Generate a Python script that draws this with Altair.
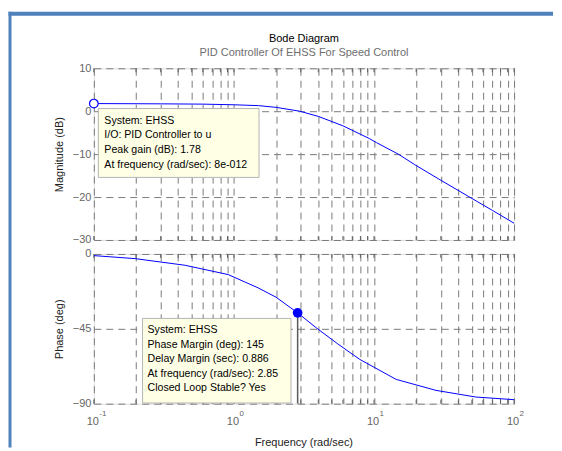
import altair as alt
import pandas as pd

# ---------------- data ----------------
mag_freq = [0.1, 0.3, 0.6, 1.0, 1.5, 2.0, 2.95, 4.0, 6.0, 9.3, 10.4, 15.1, 19.4, 29.0, 47.5, 70.0, 100.0]
mag_db = [1.78, 1.72, 1.65, 1.5, 1.3, 0.9, 0.0, -1.2, -3.4, -6.4, -7.3, -10.1, -12.4, -15.8, -19.9, -23.1, -26.1]

phase_freq = [0.1, 0.197, 0.448, 0.91, 1.49, 2.0, 2.85, 3.87, 5.5, 7.92, 14.4, 27.7, 53.3, 100.0]
phase_deg = [-1.0, -2.8, -6.8, -12.4, -20.4, -26.0, -35.4, -44.4, -54.0, -63.4, -75.4, -82.0, -86.0, -87.6]

grid_freqs = [0.1, 0.2, 0.3, 0.4, 0.5, 0.6, 0.7, 0.8, 0.9,
              1, 2, 3, 4, 5, 6, 7, 8, 9,
              10, 20, 30, 40, 50, 60, 70, 80, 90, 100]
mag_ticks = [10, 0, -10, -20, -30]
phase_ticks = [0, -45, -90]
decades = [0.1, 1, 10, 100]
decade_exp = ["-1", "0", "1", "2"]

peak_freq = [0.1]
peak_db = [1.78]
pm_freq = [2.85]
pm_deg = [-35.4]

top_tip = ["System: EHSS", "I/O: PID Controller to u", "Peak gain (dB): 1.78",
           "At frequency (rad/sec): 8e-012"]
bottom_tip = ["System: EHSS", "Phase Margin (deg): 145", "Delay Margin (sec): 0.886",
              "At frequency (rad/sec): 2.85", "Closed Loop Stable? Yes"]

title_text = "Bode Diagram"
subtitle_text = "PID Controller Of EHSS For Speed Control"
xlabel_text = "Frequency  (rad/sec)"

# ---------------- styling ----------------
FONT = "Liberation Sans"
W, H1, H2 = 421, 172, 150
GRID = dict(grid=True, gridDash=[7, 5], gridColor="#7a7a7a", gridWidth=1)

mag_df = pd.DataFrame({"freq": mag_freq, "val": mag_db})
ph_df = pd.DataFrame({"freq": phase_freq, "val": phase_deg})
grid_df = pd.DataFrame({"freq": grid_freqs})
dec_df = pd.DataFrame({"freq": decades, "exp": decade_exp})

xscale = alt.Scale(type="log", domain=[0.1, 100], nice=False)
xaxis = alt.Axis(values=grid_freqs, labels=False, ticks=False, domain=False,
                 title=None, **GRID)


def yaxis(vals, title):
    return alt.Axis(values=vals, ticks=False, domain=False, labelPadding=3,
                    labelFont=FONT, labelFontSize=11, labelColor="#666666",
                    title=title, titleFont=FONT, titleFontSize=11,
                    titleFontWeight="normal", titleColor="#222222",
                    titlePadding=8, **GRID)


def panel(df, ydom, yvals, ytitle, h):
    ysc = alt.Scale(domain=ydom, nice=False)
    curve = alt.Chart(df).mark_line(color="#0000ff", strokeWidth=1, clip=True).encode(
        x=alt.X("freq:Q", scale=xscale, axis=xaxis),
        y=alt.Y("val:Q", scale=ysc, axis=yaxis(yvals, ytitle)),
    )
    tk = alt.Chart(grid_df)
    ticks_b = tk.mark_rule(color="#606060", strokeWidth=1).encode(
        x="freq:Q", y=alt.value(h - 4), y2=alt.value(h))
    ticks_t = tk.mark_rule(color="#606060", strokeWidth=1).encode(
        x="freq:Q", y=alt.value(0), y2=alt.value(4))
    return [ticks_b, ticks_t, curve]


# ---------------- top panel (magnitude) ----------------
top_layers = panel(mag_df, [-30, 10], mag_ticks, "Magnitude (dB)", H1)

blue_top = alt.Chart(pd.DataFrame({"a": [0]})).mark_rect(color="#4f81bd").encode(
    x=alt.value(-85.5), x2=alt.value(460), y=alt.value(-56.7), y2=alt.value(-52.7))
blue_left = alt.Chart(pd.DataFrame({"a": [0]})).mark_rect(color="#4f81bd").encode(
    x=alt.value(-85.5), x2=alt.value(-82.5), y=alt.value(-56.7), y2=alt.value(380))
t1 = alt.Chart(pd.DataFrame({"t": [title_text]})).mark_text(
    font=FONT, fontSize=11, color="#000000", baseline="middle", align="center").encode(
    text="t:N", x=alt.value(W / 2), y=alt.value(-29.7))
t2 = alt.Chart(pd.DataFrame({"t": [subtitle_text]})).mark_text(
    font=FONT, fontSize=11, color="#6e6e6e", baseline="middle", align="center").encode(
    text="t:N", x=alt.value(W / 2), y=alt.value(-15.7))

tip1_box = alt.Chart(pd.DataFrame({"a": [0]})).mark_rect(
    fill="#ffffe6", stroke="#b4b4b4", strokeWidth=1).encode(
    x=alt.value(4.5), x2=alt.value(165.5), y=alt.value(40.3), y2=alt.value(109.3))
tip1_text = alt.Chart(pd.DataFrame({"a": [0]})).mark_text(
    text=top_tip, font=FONT, fontSize=10.6, color="#000000", align="left",
    baseline="middle", lineHeight=14.7).encode(x=alt.value(10.5), y=alt.value(52.6))
peak = alt.Chart(pd.DataFrame({"freq": peak_freq, "val": peak_db})).mark_point(
    shape="circle", size=75, color="#0000ff", fill="white", filled=False,
    strokeWidth=1.2, opacity=1, fillOpacity=1).encode(x="freq:Q", y="val:Q")

top = alt.layer(*top_layers, tip1_box, tip1_text, peak, blue_top, blue_left, t1, t2).properties(
    width=W, height=H1)

# ---------------- bottom panel (phase) ----------------
bot_layers = panel(ph_df, [-90, 0], phase_ticks, "Phase (deg)", H2)

pm_df = pd.DataFrame({"freq": pm_freq, "val": pm_deg})
pm_line = alt.Chart(pm_df).mark_rule(color="#5a5a5a", strokeWidth=1.5).encode(
    x="freq:Q", y="val:Q", y2=alt.datum(-90))
pm_dot = alt.Chart(pm_df).mark_point(
    shape="circle", size=95, color="#0000ff", filled=True, opacity=1).encode(
    x="freq:Q", y="val:Q")
tip2_box = alt.Chart(pd.DataFrame({"a": [0]})).mark_rect(
    fill="#ffffe6", stroke="#b4b4b4", strokeWidth=1).encode(
    x=alt.value(48.8), x2=alt.value(197.5), y=alt.value(64.6), y2=alt.value(149.3))
tip2_text = alt.Chart(pd.DataFrame({"a": [0]})).mark_text(
    text=bottom_tip, font=FONT, fontSize=10.6, color="#000000", align="left",
    baseline="middle", lineHeight=14.4).encode(x=alt.value(53.8), y=alt.value(76.6))

dec = alt.Chart(dec_df)
lab10 = dec.mark_text(text="10", font=FONT, fontSize=11, color="#666666",
                      align="center", baseline="middle", dx=-1).encode(
    x="freq:Q", y=alt.value(H2 + 18.7))
labexp = dec.mark_text(font=FONT, fontSize=8, color="#666666",
                       align="left", baseline="middle", dx=5.5).encode(
    x="freq:Q", y=alt.value(H2 + 10.8), text="exp:N")
xlab = alt.Chart(pd.DataFrame({"t": [xlabel_text]})).mark_text(
    font=FONT, fontSize=11, color="#222222", align="center", baseline="middle").encode(
    text="t:N", x=alt.value(W / 2), y=alt.value(H2 + 39.5))

bottom = alt.layer(*bot_layers, pm_line, tip2_box, tip2_text, pm_dot, lab10, labexp, xlab).properties(
    width=W, height=H2)

chart = alt.vconcat(top, bottom, spacing=14, bounds="flush").properties(
    padding={"left": 0, "top": 2, "right": 0, "bottom": 0}
).configure_view(stroke="#606060", strokeWidth=1.5).configure(background="white")

chart.save("out.html", embed_options={"renderer": "svg", "actions": False})
